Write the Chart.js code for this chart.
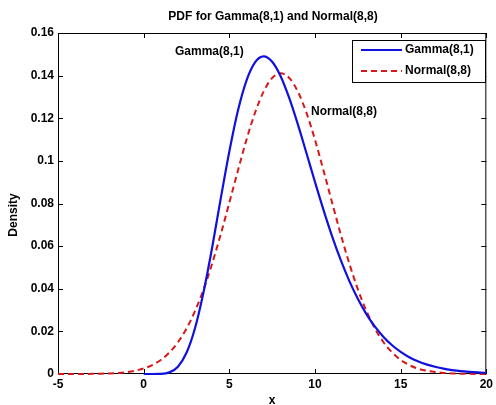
<!DOCTYPE html>
<html>
<head>
<meta charset="utf-8">
<script src="https://cdn.jsdelivr.net/npm/chart.js@4/dist/chart.umd.min.js"></script>
<style>
  html, body { margin: 0; padding: 0; background: #fff; }
  #wrap { width: 496px; height: 405px; }
</style>
</head>
<body>
<div id="wrap"><canvas id="chart-canvas"></canvas></div>
<script>
// values
const xValues = [-5, -4.5, -4, -3.5, -3, -2.5, -2, -1.5, -1, -0.5, 0, 0.5, 1, 1.5, 2, 2.5, 3, 3.5, 4, 4.5,
  5, 5.5, 6, 6.5, 7, 7.5, 8, 8.5, 9, 9.5, 10, 10.5, 11, 11.5, 12, 12.5, 13, 13.5, 14, 14.5,
  15, 15.5, 16, 16.5, 17, 17.5, 18, 18.5, 19, 19.5, 20];
// gamma curve only starts at x = 0
const gammaValues = [null, null, null, null, null, null, null, null, null, null, 0, 0, 0.00007, 0.00076, 0.00344, 0.00994, 0.0216, 0.0386, 0.0595, 0.0824,
  0.1044, 0.1235, 0.1377, 0.1462, 0.1490, 0.1465, 0.1396, 0.1294, 0.1171, 0.1037, 0.0901, 0.0769, 0.0646, 0.0535, 0.0437, 0.0353, 0.0281, 0.0222, 0.0174, 0.0135,
  0.0104, 0.0079, 0.0060, 0.0045, 0.0034, 0.0025, 0.00185, 0.00135, 0.00099, 0.00072, 0.00052];
const normalValues = [0.000004, 0.000008, 0.000017, 0.000036, 0.000073, 0.000144, 0.000272, 0.000501, 0.000893, 0.00154, 0.00258, 0.00419, 0.0066, 0.0101, 0.0149, 0.0213, 0.0296, 0.0398, 0.0519, 0.0656,
  0.0804, 0.0954, 0.1099, 0.1226, 0.1325, 0.1389, 0.1411, 0.1389, 0.1325, 0.1226, 0.1099, 0.0954, 0.0804, 0.0656, 0.0519, 0.0398, 0.0296, 0.0213, 0.0149, 0.0101,
  0.0066, 0.00419, 0.00258, 0.00154, 0.000893, 0.000501, 0.000272, 0.000144, 0.000073, 0.000036, 0.000017];
const xTicks = [-5, 0, 5, 10, 15, 20];
const yTicks = [0, 0.02, 0.04, 0.06, 0.08, 0.1, 0.12, 0.14, 0.16];

const FONT = 'Arial, "Liberation Sans", sans-serif';
const BLUE = '#1010e0';
const RED = '#d81818';

const toPoints = ys => xValues.map((x, i) => ({ x: x, y: ys[i] }));

// frame and inward ticks go under the curves, text and legend on top
const matlabFrame = {
  id: 'matlabFrame',
  beforeDatasetsDraw(chart) {
    const c = chart.ctx;
    const a = chart.chartArea;
    const xs = chart.scales.x, ys = chart.scales.y;
    c.save();
    c.strokeStyle = '#000';
    c.lineWidth = 1;
    c.strokeRect(a.left + 0.5, a.top + 0.5, a.right - a.left - 1, a.bottom - a.top - 1);
    c.beginPath();
    xTicks.forEach(v => {
      const px = Math.round(xs.getPixelForValue(v)) + 0.5;
      c.moveTo(px, a.bottom); c.lineTo(px, a.bottom - 5);
      c.moveTo(px, a.top); c.lineTo(px, a.top + 5);
    });
    yTicks.forEach(v => {
      const py = Math.round(ys.getPixelForValue(v)) + 0.5;
      c.moveTo(a.left, py); c.lineTo(a.left + 5, py);
      c.moveTo(a.right, py); c.lineTo(a.right - 5, py);
    });
    c.stroke();
    c.restore();
  },
  afterDraw(chart) {
    const c = chart.ctx;
    c.save();
    c.fillStyle = '#000';
    c.font = 'bold 12px ' + FONT;
    c.textAlign = 'center';
    c.textBaseline = 'middle';
    c.fillText('PDF for Gamma(8,1) and Normal(8,8)', 273, 17);
    c.fillText('x', 272, 401);
    c.save();
    c.translate(14, 215);
    c.rotate(-Math.PI / 2);
    c.fillText('Density', 0, 0);
    c.restore();

    c.textAlign = 'left';
    c.fillText('Gamma(8,1)', 175, 52);
    c.fillText('Normal(8,8)', 311, 112);

    // legend
    c.fillStyle = '#fff';
    c.fillRect(352, 40, 134, 43);
    c.strokeStyle = '#000';
    c.lineWidth = 1;
    c.strokeRect(352.5, 40.5, 133, 42);
    c.lineWidth = 2;
    c.strokeStyle = BLUE;
    c.beginPath(); c.moveTo(361, 50); c.lineTo(402, 50); c.stroke();
    c.strokeStyle = RED;
    c.setLineDash([6, 4]);
    c.beginPath(); c.moveTo(361, 71); c.lineTo(402, 71); c.stroke();
    c.setLineDash([]);
    c.fillStyle = '#000';
    c.fillText('Gamma(8,1)', 405, 50);
    c.fillText('Normal(8,8)', 405, 71);
    c.restore();
  }
};

const chartCtx = document.getElementById('chart-canvas');

const pdfChart = new Chart(chartCtx, {
  type: 'line',
  data: {
    datasets: [
      {
        label: 'Gamma(8,1)',
        data: toPoints(gammaValues),
        borderColor: BLUE,
        borderWidth: 2.2,
        pointRadius: 0,
        clip: 3,
        cubicInterpolationMode: 'monotone'
      },
      {
        label: 'Normal(8,8)',
        data: toPoints(normalValues),
        borderColor: RED,
        borderWidth: 2,
        borderDash: [6, 4],
        pointRadius: 0,
        clip: 3,
        cubicInterpolationMode: 'monotone'
      }
    ]
  },
  options: {
    responsive: true,
    maintainAspectRatio: false,
    animation: false,
    layout: { padding: { top: 33, right: 8, left: 0, bottom: 0 } },
    plugins: {
      legend: { display: false },
      tooltip: { enabled: false }
    },
    scales: {
      x: {
        type: 'linear',
        min: -5,
        max: 20,
        afterBuildTicks: s => { s.ticks = xTicks.map(v => ({ value: v })); },
        afterFit: s => { s.height = 31; },
        grid: { display: false, drawTicks: false },
        border: { display: false },
        ticks: { color: '#000', font: { size: 12, weight: 'bold', family: FONT }, padding: 3, maxRotation: 0 }
      },
      y: {
        min: 0,
        max: 0.16,
        afterBuildTicks: s => { s.ticks = yTicks.map(v => ({ value: v })); },
        afterFit: s => { s.width = 58; },
        grid: { display: false, drawTicks: false },
        border: { display: false },
        ticks: {
          color: '#000',
          font: { size: 12, weight: 'bold', family: FONT },
          padding: 4,
          callback: v => String(parseFloat(v.toFixed(2)))
        }
      }
    }
  },
  plugins: [matlabFrame]
});
</script>
</body>
</html>
